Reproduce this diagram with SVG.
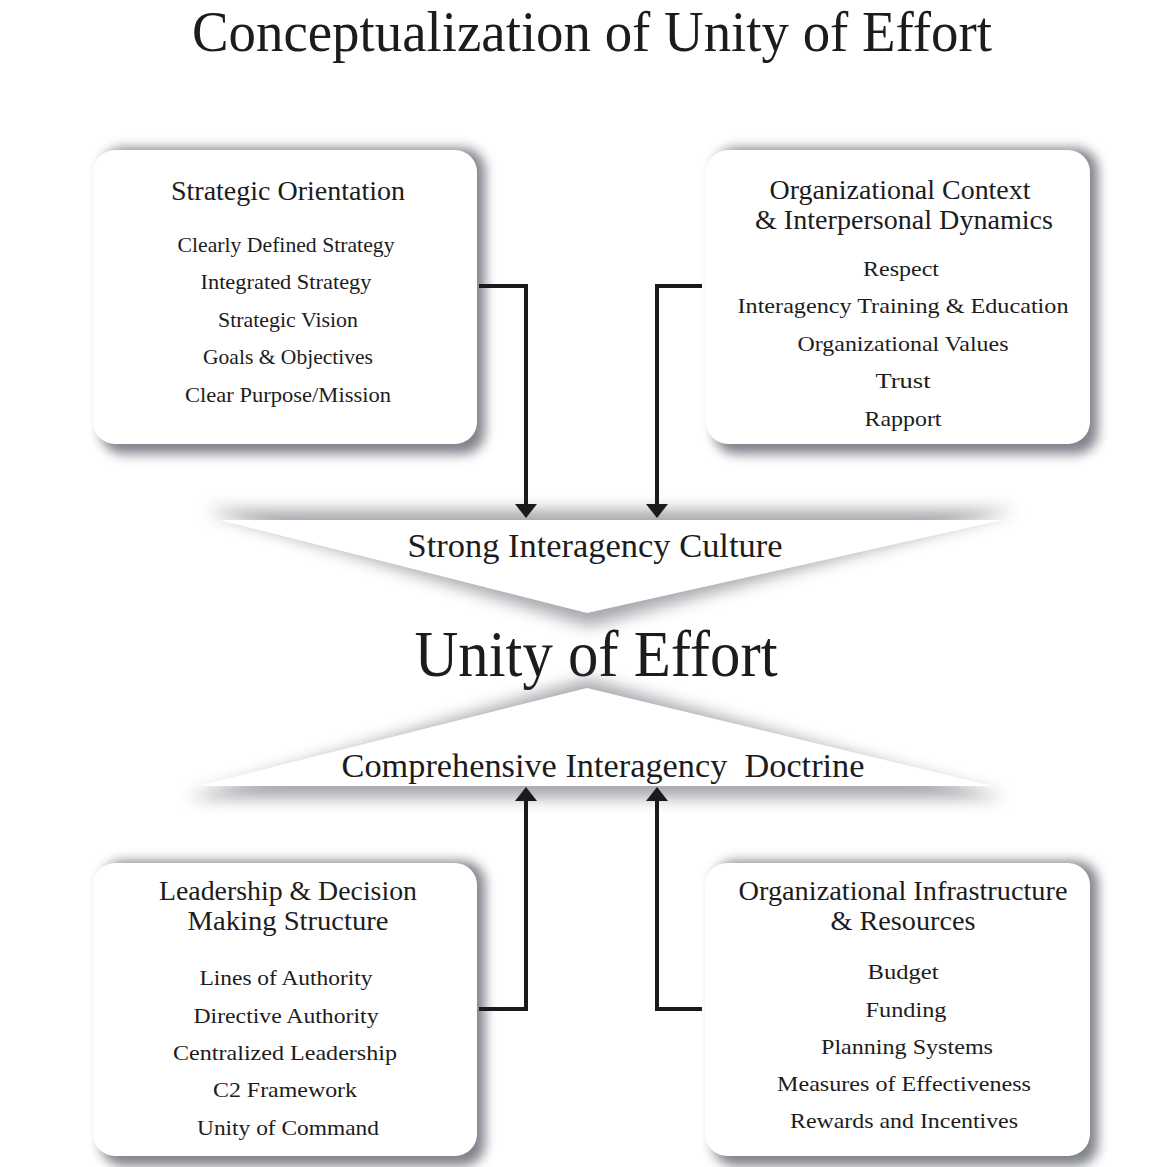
<svg xmlns="http://www.w3.org/2000/svg" width="1150" height="1167" viewBox="0 0 1150 1167">
<defs>
<style>
text{font-family:"Liberation Serif","Times New Roman",serif;fill:#1c1c1c;text-anchor:middle}
.ttl{font-size:28px}
.itm{font-size:22px}
.box{fill:#ffffff}
.shd{fill:#6a6d76;opacity:0.85}
.tshd{fill:#6a6d76;opacity:0.6}
.con{fill:none;stroke:#1a1a1a;stroke-width:4;stroke-linejoin:miter}
</style>
<filter id="blur" x="-20%" y="-30%" width="140%" height="160%"><feGaussianBlur stdDeviation="6"/></filter>
<filter id="tblur" x="-20%" y="-60%" width="140%" height="220%"><feGaussianBlur stdDeviation="8"/></filter>
</defs>
<rect width="1150" height="1167" fill="#ffffff"/>

<text x="592" y="51" font-size="57" textLength="800" lengthAdjust="spacingAndGlyphs">Conceptualization of Unity of Effort</text>

<g id="culture">
<polygon class="tshd" filter="url(#tblur)" points="204,510 1016,510 590,626"/>
<polygon class="box" points="219,520 1003,520 587,613"/>
<text x="595" y="557" font-size="34" textLength="375" lengthAdjust="spacingAndGlyphs">Strong Interagency Culture</text>
</g>

<g id="unity">
<text x="596" y="676" font-size="66" textLength="363" lengthAdjust="spacingAndGlyphs">Unity of Effort</text>
</g>

<g id="doctrine">
<polygon class="tshd" filter="url(#tblur)" points="186,798 1006,798 588,679"/>
<polygon class="box" points="197,786 993,786 587,688"/>
<text x="603" y="777" font-size="34" textLength="523" lengthAdjust="spacingAndGlyphs" xml:space="preserve">Comprehensive Interagency  Doctrine</text>
</g>

<g id="strategic">
<rect class="shd" filter="url(#blur)" x="101" y="148" width="384" height="306" rx="22"/>
<rect class="box" x="93" y="150" width="384" height="294" rx="22"/>
<text class="ttl" x="288" y="200" textLength="234" lengthAdjust="spacingAndGlyphs">Strategic Orientation</text>
<text class="itm" x="286" y="252" textLength="217" lengthAdjust="spacingAndGlyphs">Clearly Defined Strategy</text>
<text class="itm" x="286" y="289" textLength="171" lengthAdjust="spacingAndGlyphs">Integrated Strategy</text>
<text class="itm" x="288" y="327" textLength="140" lengthAdjust="spacingAndGlyphs">Strategic Vision</text>
<text class="itm" x="288" y="364" textLength="170" lengthAdjust="spacingAndGlyphs">Goals &amp; Objectives</text>
<text class="itm" x="288" y="402" textLength="206" lengthAdjust="spacingAndGlyphs">Clear Purpose/Mission</text>
</g>

<g id="orgcontext">
<rect class="shd" filter="url(#blur)" x="714" y="148" width="384" height="306" rx="22"/>
<rect class="box" x="706" y="150" width="384" height="294" rx="22"/>
<text class="ttl" x="900" y="199" textLength="261" lengthAdjust="spacingAndGlyphs">Organizational Context</text>
<text class="ttl" x="904" y="229" textLength="298" lengthAdjust="spacingAndGlyphs">&amp; Interpersonal Dynamics</text>
<text class="itm" x="901" y="276" textLength="76" lengthAdjust="spacingAndGlyphs">Respect</text>
<text class="itm" x="903" y="313" textLength="331" lengthAdjust="spacingAndGlyphs">Interagency Training &amp; Education</text>
<text class="itm" x="903" y="351" textLength="211" lengthAdjust="spacingAndGlyphs">Organizational Values</text>
<text class="itm" x="903" y="388" textLength="55" lengthAdjust="spacingAndGlyphs">Trust</text>
<text class="itm" x="903" y="426" textLength="77" lengthAdjust="spacingAndGlyphs">Rapport</text>
</g>

<g id="leadership">
<rect class="shd" filter="url(#blur)" x="101" y="861" width="384" height="305" rx="22"/>
<rect class="box" x="93" y="863" width="384" height="293" rx="22"/>
<text class="ttl" x="288" y="900" textLength="258" lengthAdjust="spacingAndGlyphs">Leadership &amp; Decision</text>
<text class="ttl" x="288" y="930" textLength="201" lengthAdjust="spacingAndGlyphs">Making Structure</text>
<text class="itm" x="286" y="985" textLength="173" lengthAdjust="spacingAndGlyphs">Lines of Authority</text>
<text class="itm" x="286" y="1023" textLength="185" lengthAdjust="spacingAndGlyphs">Directive Authority</text>
<text class="itm" x="285" y="1060" textLength="224" lengthAdjust="spacingAndGlyphs">Centralized Leadership</text>
<text class="itm" x="285" y="1097" textLength="144" lengthAdjust="spacingAndGlyphs">C2 Framework</text>
<text class="itm" x="288" y="1135" textLength="182" lengthAdjust="spacingAndGlyphs">Unity of Command</text>
</g>

<g id="infrastructure">
<rect class="shd" filter="url(#blur)" x="713" y="861" width="385" height="305" rx="22"/>
<rect class="box" x="705" y="863" width="385" height="293" rx="22"/>
<text class="ttl" x="903" y="900" textLength="329" lengthAdjust="spacingAndGlyphs">Organizational Infrastructure</text>
<text class="ttl" x="903" y="930" textLength="145" lengthAdjust="spacingAndGlyphs">&amp; Resources</text>
<text class="itm" x="903" y="979" textLength="71" lengthAdjust="spacingAndGlyphs">Budget</text>
<text class="itm" x="906" y="1017" textLength="81" lengthAdjust="spacingAndGlyphs">Funding</text>
<text class="itm" x="907" y="1054" textLength="172" lengthAdjust="spacingAndGlyphs">Planning Systems</text>
<text class="itm" x="904" y="1091" textLength="254" lengthAdjust="spacingAndGlyphs">Measures of Effectiveness</text>
<text class="itm" x="904" y="1128" textLength="228" lengthAdjust="spacingAndGlyphs">Rewards and Incentives</text>
</g>

<g id="connectors">
<path class="con" d="M479,286 H526 V504"/>
<polygon points="515,504 537,504 526,518" fill="#1a1a1a"/>
<path class="con" d="M702,286 H657 V504"/>
<polygon points="646,504 668,504 657,518" fill="#1a1a1a"/>
<path class="con" d="M479,1009 H526 V801"/>
<polygon points="515,801 537,801 526,787" fill="#1a1a1a"/>
<path class="con" d="M702,1009 H657 V801"/>
<polygon points="646,801 668,801 657,787" fill="#1a1a1a"/>
</g>
</svg>
